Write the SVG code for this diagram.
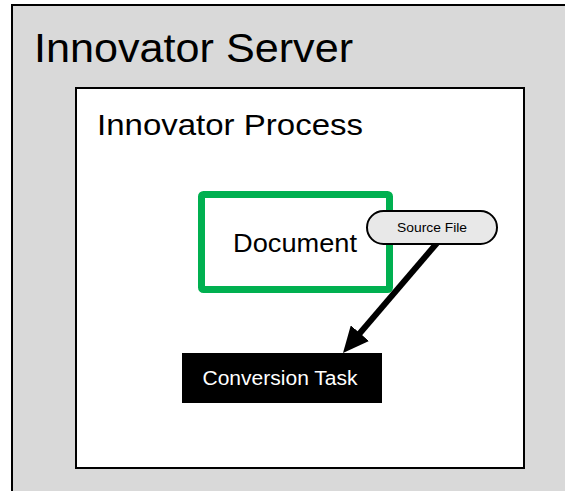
<svg xmlns="http://www.w3.org/2000/svg" width="565" height="491" viewBox="0 0 565 491">
<style>
text{font-family:"Liberation Sans","Open Sans",Arial,sans-serif;}
.frame{stroke:#000;stroke-width:2;}
</style>
<defs>
<marker id="ah" markerWidth="26" markerHeight="24" refX="10" refY="12" orient="auto" markerUnits="userSpaceOnUse">
<path d="M0,0 L26,12 L0,24 Z" fill="#000"/>
</marker>
</defs>
<rect width="565" height="491" fill="#fff"/>
<g id="innovator-server">
<rect class="frame" x="12" y="5" width="600" height="600" fill="#d9d9d9"/>
<text x="34" y="62" font-size="40" textLength="319" lengthAdjust="spacingAndGlyphs">Innovator Server</text>
</g>
<g id="innovator-process">
<rect class="frame" x="76" y="88" width="448" height="380" fill="#fff"/>
<text x="97" y="135" font-size="30" textLength="266" lengthAdjust="spacingAndGlyphs">Innovator Process</text>
</g>
<g id="document">
<rect x="201.5" y="194.5" width="188" height="95" rx="2" fill="#fff" stroke="#00b050" stroke-width="7"/>
<text x="295" y="252" font-size="25" text-anchor="middle" textLength="124" lengthAdjust="spacingAndGlyphs">Document</text>
</g>
<g id="conversion-task">
<rect x="182" y="353" width="200" height="50" fill="#000"/>
<text x="280" y="385" font-size="20" fill="#fff" text-anchor="middle" textLength="155" lengthAdjust="spacingAndGlyphs">Conversion Task</text>
</g>
<g id="connectors">
<line x1="437" y1="243" x2="353.4" y2="340.8" stroke="#000" stroke-width="6" marker-end="url(#ah)"/>
</g>
<g id="source-file">
<rect x="367" y="211" width="130" height="33" rx="16.5" fill="#e8e8e8" stroke="#000" stroke-width="2"/>
<text x="432" y="232" font-size="13" text-anchor="middle" textLength="70" lengthAdjust="spacingAndGlyphs">Source File</text>
</g>
</svg>
